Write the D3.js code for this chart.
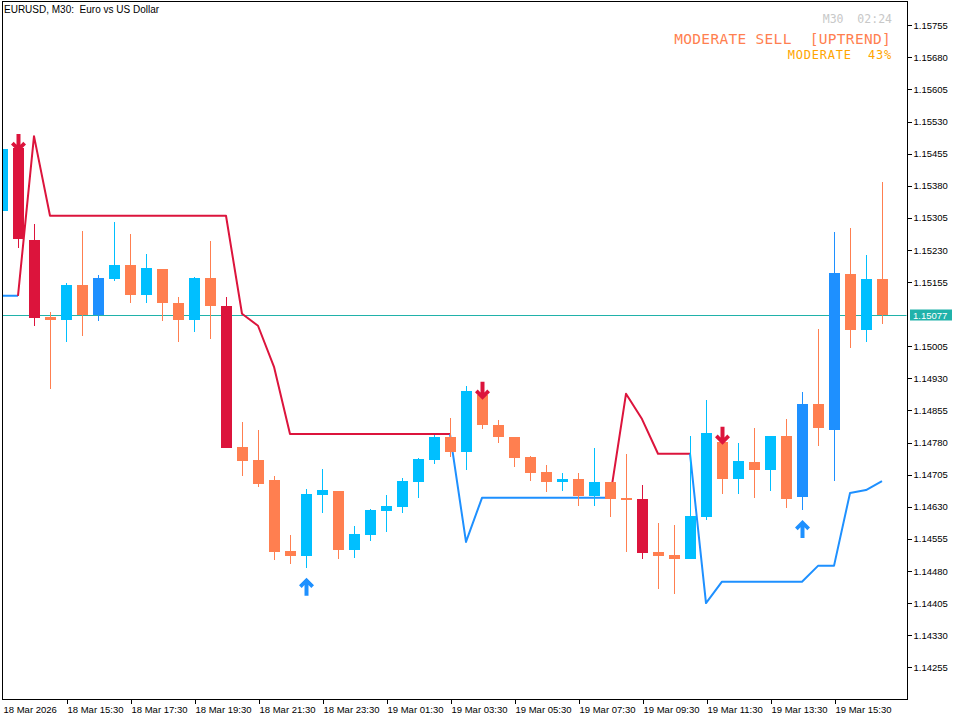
<!DOCTYPE html>
<html><head><meta charset="utf-8">
<script src="https://cdn.jsdelivr.net/npm/d3@7"></script>
<style>body{margin:0;background:#fff;} svg{display:block;} text{white-space:pre;}</style>
</head><body><svg id="chart" width="960" height="720"></svg>
<script>
// ---------- DATA ----------
const symbolTitle = "EURUSD, M30:  Euro vs US Dollar";
const startTime = new Date(2026, 2, 18, 13, 30);
const barCount = 56;
const barTimes = d3.range(barCount).map(i => d3.timeMinute.offset(startTime, 30 * i));

const opens  = [1.15320,1.15468,1.15253,1.15074,1.15067,1.15148,1.15077,1.15162,1.15195,1.15126,
                1.15186,1.15106,1.15067,1.15165,1.15099,1.14770,1.14740,1.14693,1.14527,1.14516,
                1.14658,1.14667,1.14529,1.14564,1.14620,1.14630,1.14689,1.14740,1.14793,1.14759,
                1.14891,1.14821,1.14793,1.14747,1.14712,1.14687,1.14695,1.14655,1.14688,1.14651,
                1.14648,1.14525,1.14518,1.14509,1.14607,1.14782,1.14694,1.14735,1.14717,1.14796,
                1.14654,1.14870,1.14810,1.15174,1.15042,1.15162];
const highs  = [1.15466,1.15480,1.15291,1.15085,1.15153,1.15274,1.15172,1.15296,1.15267,1.15221,
                1.15186,1.15120,1.15167,1.15251,1.15120,1.14827,1.14810,1.14702,1.14563,1.14672,
                1.14719,1.14667,1.14586,1.14624,1.14658,1.14698,1.14744,1.14798,1.14838,1.14912,
                1.14898,1.14833,1.14793,1.14749,1.14728,1.14709,1.14709,1.14768,1.14688,1.14754,
                1.14681,1.14592,1.14588,1.14796,1.14880,1.14796,1.14779,1.14814,1.14796,1.14835,
                1.14898,1.15046,1.15272,1.15282,1.15218,1.15389];
const lows   = [1.15320,1.15235,1.15053,1.14905,1.15014,1.15028,1.15064,1.15158,1.15105,1.15107,
                1.15063,1.15016,1.15039,1.15023,1.14768,1.14701,1.14677,1.14506,1.14497,1.14488,
                1.14616,1.14508,1.14511,1.14549,1.14571,1.14616,1.14651,1.14731,1.14747,1.14717,
                1.14812,1.14780,1.14724,1.14690,1.14665,1.14668,1.14632,1.14632,1.14605,1.14525,
                1.14507,1.14437,1.14427,1.14509,1.14599,1.14661,1.14661,1.14651,1.14668,1.14628,
                1.14623,1.14773,1.14691,1.15002,1.15014,1.15056];
const closes = [1.15466,1.15255,1.15070,1.15067,1.15148,1.15077,1.15165,1.15195,1.15126,1.15188,
                1.15105,1.15067,1.15165,1.15098,1.14768,1.14738,1.14684,1.14525,1.14516,1.14660,
                1.14669,1.14529,1.14567,1.14623,1.14632,1.14690,1.14742,1.14793,1.14759,1.14901,
                1.14820,1.14792,1.14745,1.14710,1.14687,1.14695,1.14655,1.14688,1.14649,1.14647,
                1.14523,1.14516,1.14509,1.14609,1.14803,1.14694,1.14737,1.14717,1.14796,1.14649,
                1.14870,1.14813,1.15176,1.15042,1.15162,1.15077];
// 1 = strong candle (dark colour), 0 = normal
const strongBar = [0,1,1,0,0,0,1,0,0,0, 0,0,0,0,1,0,0,0,0,0, 0,0,0,0,0,0,0,0,0,0,
                   0,0,0,0,0,0,0,0,0,0, 1,0,0,0,0,0,0,0,0,0, 1,0,1,0,0,0];

// trend line value and direction (1 up / -1 down) of the segment leaving each bar
const trendLine = [1.15123,1.15123,1.15496,1.15310,1.15310,1.15310,1.15310,1.15310,1.15310,1.15310,
                   1.15310,1.15310,1.15310,1.15310,1.15310,1.15081,1.15053,1.14957,1.14800,1.14800,
                   1.14800,1.14800,1.14800,1.14800,1.14800,1.14800,1.14800,1.14800,1.14800,1.14548,
                   1.14651,1.14651,1.14651,1.14651,1.14651,1.14651,1.14651,1.14651,1.14651,1.14894,
                   1.14835,1.14754,1.14754,1.14754,1.14405,1.14455,1.14455,1.14455,1.14455,1.14455,
                   1.14455,1.14492,1.14492,1.14662,1.14669,1.14690];
const trendDir = [1,-1,-1,-1,-1,-1,-1,-1,-1,-1, -1,-1,-1,-1,-1,-1,-1,-1,-1,-1,
                  -1,-1,-1,-1,-1,-1,-1,-1,1,1, 1,1,1,1,1,1,1,1,-1,-1,
                  -1,-1,-1,1,1,1,1,1,1,1, 1,1,1,1,1,1];

const sellSignalBars = [1, 30, 45];
const sellSignalPrices = [1.15459, 1.14880, 1.14775];
const buySignalBars = [19, 50];
const buySignalPrices = [1.14464, 1.14599];

const currentPrice = 1.15077;
const priceMin = 1.141786, priceMax = 1.158141;

const yTickLabels = ["1.15755","1.15680","1.15605","1.15530","1.15455","1.15380","1.15305","1.15230",
                     "1.15155","1.15005","1.14930","1.14855","1.14780","1.14705","1.14630","1.14555",
                     "1.14480","1.14405","1.14330","1.14255"];
const xTickBars = [0,4,8,12,16,20,24,28,32,36,40,44,48,52];
const xTickLabels = ["18 Mar 2026","18 Mar 15:30","18 Mar 17:30","18 Mar 19:30","18 Mar 21:30","18 Mar 23:30",
                     "19 Mar 01:30","19 Mar 03:30","19 Mar 05:30","19 Mar 07:30","19 Mar 09:30","19 Mar 11:30",
                     "19 Mar 13:30","19 Mar 15:30"];

const infoTimer = "M30  02:24";
const infoSignal = "MODERATE SELL  [UPTREND]";
const infoStrength = "MODERATE  43%";

// ---------- LAYOUT ----------
const plotL = 2, plotR = 907, plotT = 2, plotB = 700;
const svg = d3.select("#chart");
svg.append("rect").attr("width",960).attr("height",720).attr("fill","#fff");

const x = d3.scaleLinear().domain([0, barCount - 1]).range([2, 882]);
const y = d3.scaleLinear().domain([priceMin, priceMax]).range([plotB, 0]);

const COL = {bullN:"#00BFFF", bullS:"#1E90FF", bearN:"#FF7F50", bearS:"#DC143C",
             up:"#1E90FF", down:"#DC143C", bid:"#20B2AA"};

svg.append("defs").append("clipPath").attr("id","plot")
  .append("rect").attr("x",plotL+0.5).attr("y",plotT+0.5).attr("width",plotR-plotL-1).attr("height",plotB-plotT-1);
const g = svg.append("g").attr("clip-path","url(#plot)");

// bid line
g.append("line").attr("x1",plotL).attr("x2",plotR)
  .attr("y1",Math.round(y(currentPrice))+0.5).attr("y2",Math.round(y(currentPrice))+0.5)
  .attr("stroke",COL.bid).attr("stroke-width",1);

// trend line, split into runs by direction
const runs = [];
for (let i = 0; i < barCount - 1; i++) {
  if (!runs.length || runs[runs.length-1].dir !== trendDir[i]) runs.push({dir: trendDir[i], idx: [i]});
  runs[runs.length-1].idx.push(i + 1);
}
const tl = d3.line().x(i => x(i)).y(i => y(trendLine[i]));
g.selectAll("path.trend").data(runs).join("path").attr("class","trend")
  .attr("d", r => tl(r.idx)).attr("fill","none")
  .attr("stroke", r => r.dir > 0 ? COL.up : COL.down).attr("stroke-width",2)
  .attr("stroke-linejoin","round");

// candles
const bars = d3.range(barCount).map(i => ({i, o:opens[i], h:highs[i], l:lows[i], c:closes[i], s:strongBar[i]}));
const colorOf = d => d.c >= d.o ? (d.s ? COL.bullS : COL.bullN) : (d.s ? COL.bearS : COL.bearN);
const cg = g.append("g").attr("shape-rendering","crispEdges");
cg.selectAll("rect.wick").data(bars).join("rect").attr("class","wick")
  .attr("x", d => Math.round(x(d.i))).attr("width",1)
  .attr("y", d => Math.round(y(d.h))).attr("height", d => Math.max(1, Math.round(y(d.l)) - Math.round(y(d.h))))
  .attr("fill", colorOf);
cg.selectAll("rect.body").data(bars).join("rect").attr("class","body")
  .attr("x", d => Math.round(x(d.i)) - 5).attr("width",11)
  .attr("y", d => Math.round(y(Math.max(d.o,d.c))))
  .attr("height", d => Math.max(2, Math.round(y(Math.min(d.o,d.c))) - Math.round(y(Math.max(d.o,d.c)))))
  .attr("fill", colorOf);

// signal arrows
const downArrow = "M0,0 L-7.5,-7.5 L-4.8,-10.2 L-2,-7.2 L-2,-18 L2,-18 L2,-7.2 L4.8,-10.2 L7.5,-7.5 Z";
const upArrow   = "M0,0 L-7.5,7.5 L-4.8,10.2 L-2,7.2 L-2,18 L2,18 L2,7.2 L4.8,10.2 L7.5,7.5 Z";
g.selectAll("path.sell").data(sellSignalBars).join("path").attr("class","sell")
  .attr("transform",(b,k) => `translate(${x(b)+0.5},${y(sellSignalPrices[k])})`)
  .attr("d",downArrow).attr("fill",COL.down);
g.selectAll("path.buy").data(buySignalBars).join("path").attr("class","buy")
  .attr("transform",(b,k) => `translate(${x(b)+0.5},${y(buySignalPrices[k])})`)
  .attr("d",upArrow).attr("fill",COL.up);

// frame
svg.append("rect").attr("x",plotL+0.5).attr("y",plotT-0.5).attr("width",plotR-plotL).attr("height",plotB-plotT)
  .attr("fill","none").attr("stroke","#000").attr("stroke-width",1).attr("shape-rendering","crispEdges");

// y axis
const yAxis = d3.axisRight(y).tickValues(yTickLabels.map(Number)).tickFormat((v,k) => yTickLabels[k])
  .tickSize(4).tickPadding(2);
const ya = svg.append("g").attr("transform",`translate(${plotR+0.5},0)`).call(yAxis);
ya.select(".domain").remove();
ya.selectAll("text").attr("font-family","Liberation Sans, Arial, sans-serif").attr("font-size","9.5px").attr("fill","#000");
ya.selectAll("line").attr("stroke","#000").attr("shape-rendering","crispEdges");

// current price label
const cy = Math.round(y(currentPrice));
svg.append("rect").attr("x",plotR+3).attr("y",cy-5.5).attr("width",42).attr("height",11).attr("fill",COL.bid);
svg.append("text").attr("x",plotR+6).attr("y",cy+3.5).text(currentPrice.toFixed(5))
  .attr("font-family","Liberation Sans, Arial, sans-serif").attr("font-size","9.5px").attr("fill","#fff");

// x axis
const xAxis = d3.axisBottom(x).tickValues(xTickBars).tickFormat((v,k) => xTickLabels[k]).tickSize(4).tickPadding(3);
const xa = svg.append("g").attr("transform",`translate(0.5,${plotB-0.5})`).call(xAxis);
xa.select(".domain").remove();
xa.selectAll("text").attr("text-anchor","start").attr("dx","0.5")
  .attr("font-family","Liberation Sans, Arial, sans-serif").attr("font-size","9.5px").attr("fill","#000");
xa.selectAll("line").attr("stroke","#000").attr("shape-rendering","crispEdges");
xa.selectAll(".tick").filter(v => v === 0).select("line").remove();

// title
svg.append("text").attr("x",4).attr("y",13).attr("xml:space","preserve").text(symbolTitle)
  .attr("font-family","Liberation Sans, Arial, sans-serif").attr("font-size","10px").attr("fill","#000");

// info panel
const mono = "DejaVu Sans Mono, monospace";
svg.append("text").attr("x",892).attr("y",23.3).attr("text-anchor","end").attr("xml:space","preserve")
  .text(infoTimer).attr("font-family",mono).attr("font-size","11.5px").attr("fill","#C8C8C8");
svg.append("text").attr("x",891).attr("y",43.7).attr("text-anchor","end").attr("xml:space","preserve")
  .text(infoSignal).attr("font-family",mono).attr("font-size","14.5px").attr("letter-spacing","0.3px").attr("fill","#FF7F50");
svg.append("text").attr("x",892).attr("y",58.5).attr("text-anchor","end").attr("xml:space","preserve")
  .text(infoStrength).attr("font-family",mono).attr("font-size","12px").attr("letter-spacing","0.8px").attr("fill","#FFA500");
</script></body></html>
